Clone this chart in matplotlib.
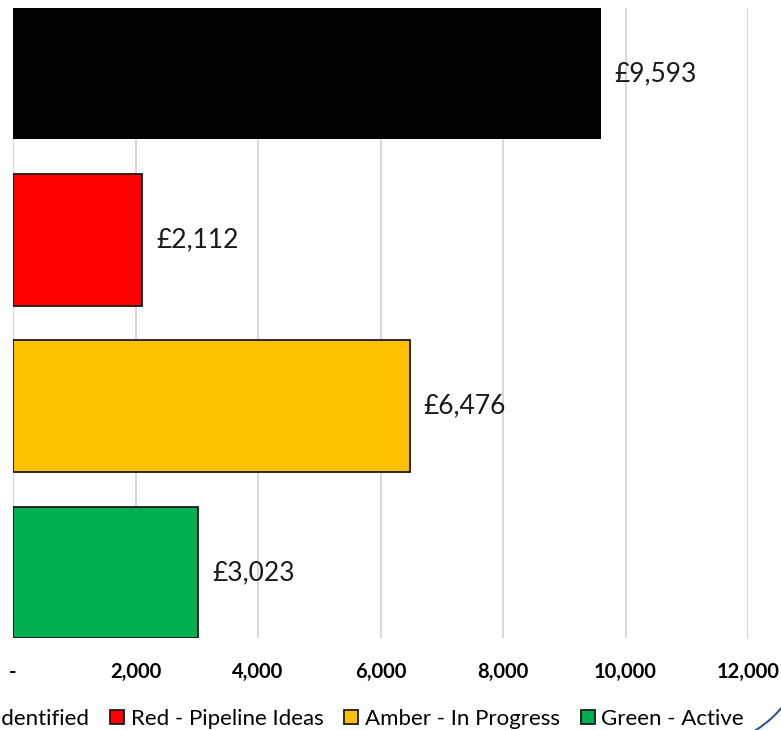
import matplotlib
matplotlib.use('Agg')
import matplotlib.pyplot as plt
from matplotlib.patches import Patch, Arc
from matplotlib.ticker import FuncFormatter
from matplotlib.transforms import IdentityTransform

# Chart data
categories = ['Total identified', 'Red - Pipeline Ideas', 'Amber - In Progress', 'Green - Active']
values = [9593, 2112, 6476, 3023]
bar_colors = ['#000000', '#FF0000', '#FFC000', '#00B050']
x_ticks = [0, 2000, 4000, 6000, 8000, 10000, 12000]

plt.rcParams['font.family'] = ['Lato', 'DejaVu Sans']

W, H, DPI = 781, 730, 100
fig = plt.figure(figsize=(W / DPI, H / DPI), dpi=DPI)
ax = fig.add_axes([13 / W, 1 - 638 / H, (748 - 13) / W, (638 - 8) / H])

pos = list(range(len(categories)))
bars = ax.barh(pos, values, height=0.79, color=bar_colors,
               edgecolor='#1a1a1a', linewidth=1.3, zorder=3)
bars[0].set_edgecolor('none')

for i, v in enumerate(values):
    ax.annotate(f'£{v:,}', xy=(v, i), xytext=(10, 0), textcoords='offset points',
                ha='left', va='center', fontsize=19, color='#1a1a1a')

ax.set_xlim(0, 12000)
ax.set_ylim(len(categories) - 1 + 0.395, -0.395)
ax.set_xticks(x_ticks)
ax.xaxis.set_major_formatter(FuncFormatter(lambda x, p: '-' if x == 0 else f'{int(x):,}'))
for lab in ax.get_xticklabels():
    lab.set_fontweight('bold')
    lab.set_fontsize(14.5)
ax.tick_params(axis='x', length=0, pad=17)
ax.set_yticks([])
ax.grid(axis='x', color='#d9d9d9', linewidth=1.5, zorder=0)
for s in ax.spines.values():
    s.set_visible(False)

handles = [Patch(facecolor=c, edgecolor='#1a1a1a', linewidth=1.3) for c in bar_colors]
fig.legend(handles, categories, ncol=4, frameon=False, fontsize=16,
           loc='center right', bbox_to_anchor=(744 / W, 1 - 719 / H),
           borderaxespad=0, borderpad=0, handlelength=0.62, handleheight=0.62,
           handletextpad=0.3, columnspacing=0.95)

# blue corner decoration
fig.add_artist(Arc((700, 90), 212, 212, theta1=-70, theta2=-25,
                   transform=IdentityTransform(), color='#2F5597', linewidth=1.5))

fig.savefig('out.png', dpi=DPI, facecolor='white')
